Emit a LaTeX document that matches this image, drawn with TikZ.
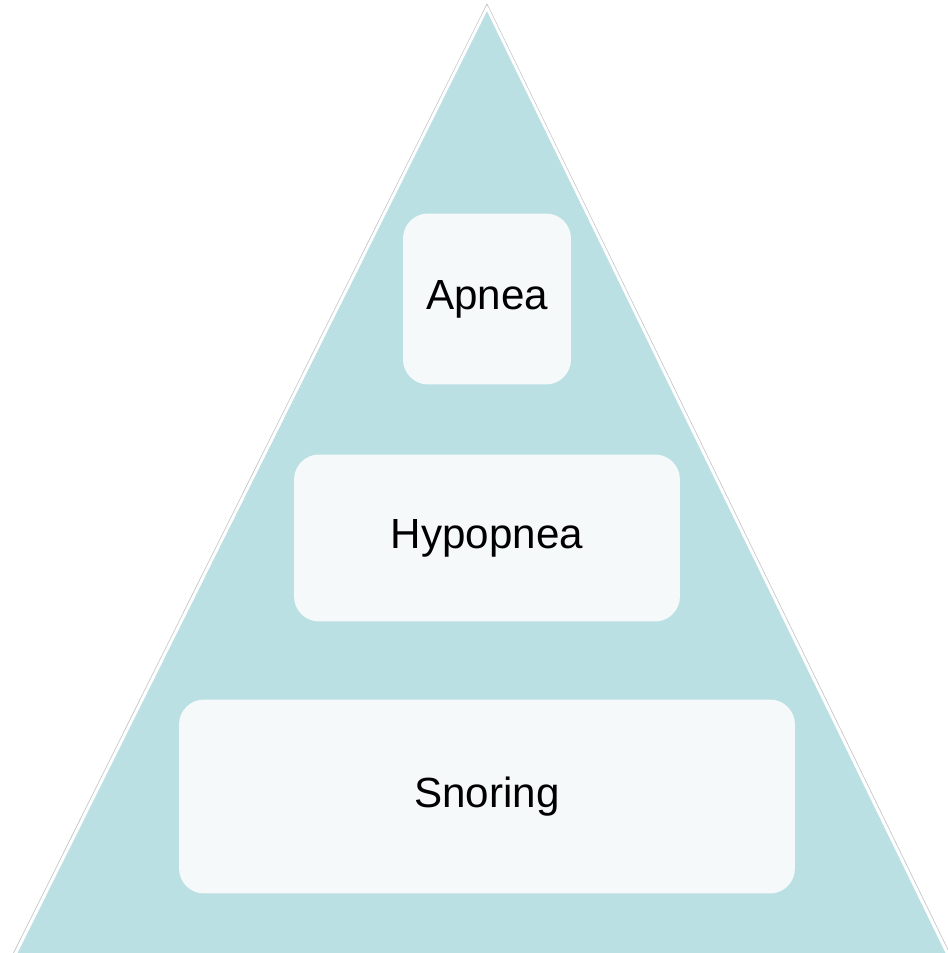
\documentclass[tikz,border=0pt]{standalone}
\usepackage{fontspec}
\setmainfont{Liberation Sans}
\usetikzlibrary{calc,positioning}
\definecolor{pyrfill}{HTML}{BBE0E3}
\definecolor{boxfill}{HTML}{F5F9FA}
\begin{document}
\begin{tikzpicture}[x=0.02cm, y=-0.02cm, line join=round,
		level/.style={draw=none, fill=boxfill, rounded corners=0.5cm, inner sep=0pt,
			font=\fontsize{24}{28}\selectfont}]
		
		% canvas
		\useasboundingbox (0,0) rectangle (947,953);
		
		% pyramid (base runs past the lower edge)
		\coordinate (top) at (487,8);
		\coordinate (bl) at (12.5,960);
		\coordinate (br) at (950.5,960);
		\draw[gray!45, line width=0.4pt] ($(top)+(0,-4)$) -- ($(bl)+(-3,1)$);
		\draw[gray!45, line width=0.4pt] ($(top)+(0,-4)$) -- ($(br)+(3,1)$);
		\filldraw[fill=pyrfill, draw=white, line width=1.5pt] (top) -- (bl) -- (br) -- cycle;
		
		% levels
		\node[level, minimum width=3.36cm, minimum height=3.42cm] (apnea) at (487,299) {Apnea};
		\node[level, minimum width=7.72cm, minimum height=3.34cm] (hypopnea) at (487,538) {Hypopnea};
		\node[level, minimum width=12.32cm, minimum height=3.88cm] (snoring) at (487,796.5) {Snoring};
		
	\end{tikzpicture}
\end{document}
